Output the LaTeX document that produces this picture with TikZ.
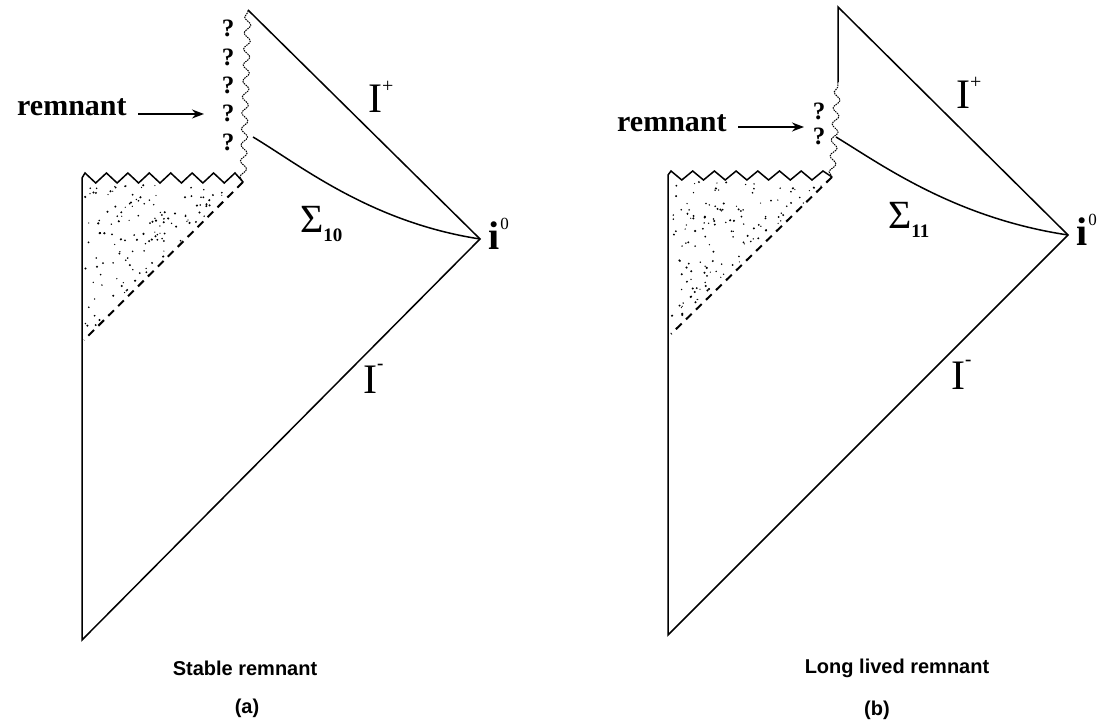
\documentclass[tikz,border=0pt]{standalone}
\usepackage{fontspec}
\setmainfont{Liberation Serif}
\newfontfamily\capfont{Liberation Sans}
\usetikzlibrary{arrows.meta,decorations.pathmorphing}
\newcommand\stipplefill[7]{%
  \foreach \kk in {1,...,#7}{%
    \pgfmathsetmacro\ra{rnd}%
    \pgfmathsetmacro\rb{rnd}%
    \pgfmathsetmacro\rs{(\ra+\rb>1)?1-\ra:\ra}%
    \pgfmathsetmacro\rt{(\ra+\rb>1)?1-\rb:\rb}%
    \pgfmathsetmacro\rr{0.6+0.6*rnd}%
    \fill ({#1+\rs*(#3-#1)+\rt*(#5-#1)},{#2+\rs*(#4-#2)+\rt*(#6-#2)}) circle (\rr pt);
  }}
\begin{document}
\begin{tikzpicture}[x=1pt,y=-1pt,
  edge/.style={line width=1.5pt, line join=miter},
  horizon/.style={line width=2pt, dash pattern=on 8pt off 6pt},
  wavy/.style={line width=1pt, dash pattern=on 1.5pt off 0.9pt, decorate,
    decoration={snake, segment length=16pt, amplitude=3.2pt}},
  arr/.style={line width=1.5pt, -{Stealth[length=12pt,width=9pt]}},
  lbl/.style={inner sep=0pt, anchor=base west, font=\fontsize{42}{42}\selectfont},
  qm/.style={inner sep=0pt, font=\bfseries\fontsize{25}{25}\selectfont},
  remtxt/.style={inner sep=0pt, anchor=base west, font=\bfseries\fontsize{30}{30}\selectfont},
  captxt/.style={inner sep=0pt, font=\capfont\bfseries\fontsize{20}{20}\selectfont}
]
\useasboundingbox (0,0) rectangle (1106,722);
\pgfmathsetseed{4711}

% ================= panel (a) =================
\coordinate (Atop) at (248,10);
\coordinate (Ai0) at (480,239);
\coordinate (Abot) at (82,640);
\coordinate (Aleft) at (82,178);
\coordinate (Acorner) at (243,182);
\coordinate (Adash) at (84,340);
\coordinate (Asig) at (253,137);

\stipplefill{85}{185}{238}{185}{85}{336}{140}

\draw[edge] (Atop) -- (Ai0) -- (Abot) -- (Aleft);
\draw[edge] (Aleft) \foreach \k in {0,...,6}{ -- ({85+21.43*\k},173) -- ({95.7+21.43*\k},183)} -- (235,173) -- (Acorner);
\draw[horizon] (Acorner) -- (Adash);
\draw[wavy] (Acorner) -- (Atop);
\draw[edge] (Asig) .. controls (300,165) and (370,222) .. (Ai0);

\foreach \yy/\nm in {28/1,57/2,85/3,113/4,142/5}
  \node[qm] (qa\nm) at (228,\yy) {?};

\node[remtxt] (rema) at (17,116) {remnant};
\coordinate (arra0) at (138,114);
\coordinate (arra1) at (204,114);
\draw[arr] (arra0) -- (arra1);

\node[lbl] (Iplusa) at (368,113) {I\raisebox{20pt}{\fontsize{20}{20}\selectfont +}};
\node[lbl] (Iminusa) at (363,393) {I\raisebox{24pt}{\bfseries\fontsize{19}{19}\selectfont -}};
\node[lbl, font=\fontsize{40}{40}\selectfont] (siga) at (300,233) {Σ\raisebox{-9pt}{\bfseries\fontsize{19}{19}\selectfont 10}};
\node[lbl, font=\bfseries\fontsize{40}{40}\selectfont] (ioa) at (488,250) {i\kern1pt\raisebox{20pt}{\mdseries\fontsize{17}{17}\selectfont 0}};

\node[captxt] (capa) at (245,668) {Stable remnant};
\node[captxt] (laba) at (247,708) {(a)};

% ================= panel (b) =================
\coordinate (Btop) at (838,7);
\coordinate (Bsolid) at (838,82);
\coordinate (Bi0) at (1068,235);
\coordinate (Bbot) at (668,635);
\coordinate (Bleft) at (668,175);
\coordinate (Bcorner) at (832,177);
\coordinate (Bdash) at (671,334);
\coordinate (Bsig) at (836,137);

\stipplefill{671}{182}{826}{182}{671}{330}{140}

\draw[edge] (Bsolid) -- (Btop) -- (Bi0) -- (Bbot) -- (Bleft);
\draw[edge] (Bleft) \foreach \k in {0,...,6}{ -- ({671+21.7*\k},171) -- ({681.8+21.7*\k},180)} -- (823,171) -- (Bcorner);
\draw[horizon] (Bcorner) -- (Bdash);
\draw[wavy] (Bcorner) -- (Bsolid);
\draw[edge] (Bsig) .. controls (882,165) and (955,218) .. (Bi0);

\foreach \yy/\nm in {111/1,136/2}
  \node[qm] (qb\nm) at (819,\yy) {?};

\node[remtxt] (remb) at (617,132) {remnant};
\coordinate (arrb0) at (738,127);
\coordinate (arrb1) at (804,127);
\draw[arr] (arrb0) -- (arrb1);

\node[lbl] (Iplusb) at (956,109) {I\raisebox{20pt}{\fontsize{20}{20}\selectfont +}};
\node[lbl] (Iminusb) at (951,389) {I\raisebox{24pt}{\bfseries\fontsize{19}{19}\selectfont -}};
\node[lbl, font=\fontsize{40}{40}\selectfont] (sigb) at (888,229) {Σ\raisebox{-9pt}{\bfseries\fontsize{19}{19}\selectfont 11}};
\node[lbl, font=\bfseries\fontsize{40}{40}\selectfont] (iob) at (1076,246) {i\kern1pt\raisebox{20pt}{\mdseries\fontsize{17}{17}\selectfont 0}};

\node[captxt] (capb) at (897,668) {Long lived remnant};
\node[captxt] (labb) at (877,710) {(b)};
\end{tikzpicture}
\end{document}
